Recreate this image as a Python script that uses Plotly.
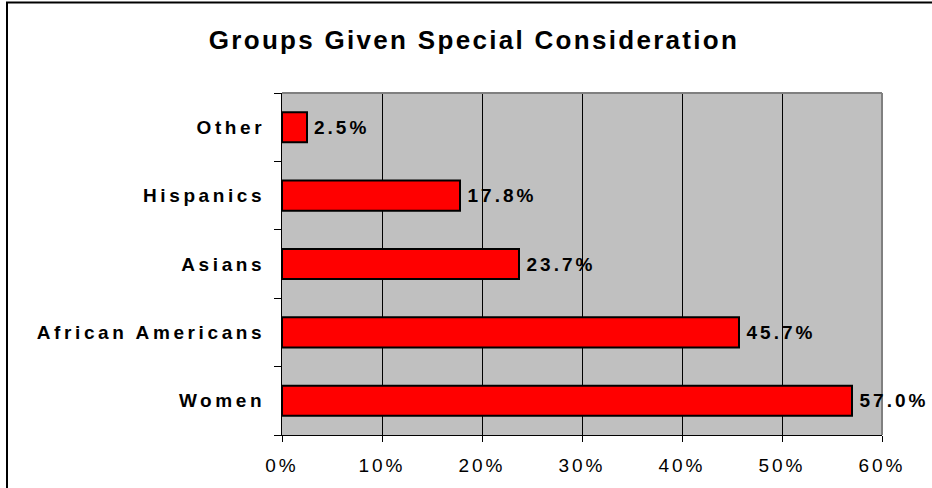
import plotly.graph_objects as go

categories = ["Women", "African Americans", "Asians", "Hispanics", "Other"]
shares = [57.0, 45.7, 23.7, 17.8, 2.5]
x_ticks = [0, 10, 20, 30, 40, 50, 60]
x_tick_labels = ["0%", "10%", "20%", "30%", "40%", "50%", "60%"]

FONT = "Liberation Sans, Arial, sans-serif"
SPACING = 3  # px of letter spacing on the value labels

fig = go.Figure()
fig.add_trace(
    go.Bar(
        x=shares,
        y=categories,
        orientation="h",
        marker=dict(color="#FF0000", line=dict(color="black", width=2)),
        hoverinfo="skip",
    )
)

# value labels to the right of each bar
labels = []
for cat, v in zip(categories, shares):
    txt = f"{v:.1f}%"
    labels.append(
        dict(
            x=v,
            y=cat,
            text=f"<b>{txt}</b>",
            xanchor="left",
            yanchor="middle",
            showarrow=False,
            xshift=5 + len(txt) * SPACING / 2,
            font=dict(family=FONT, size=19, color="black"),
        )
    )

fig.update_layout(
    width=932,
    height=488,
    margin=dict(l=282, r=50, t=93, b=53),
    paper_bgcolor="white",
    plot_bgcolor="#C0C0C0",
    bargap=0.56,
    showlegend=False,
    title=dict(
        text="<b>Groups Given Special Consideration</b>",
        font=dict(family=FONT, size=26, color="black"),
        x=474 / 932,
        xanchor="center",
        y=1 - 40 / 488,
        yanchor="middle",
    ),
    xaxis=dict(
        range=[0, 60],
        tickvals=x_ticks,
        ticktext=x_tick_labels,
        showgrid=True,
        gridcolor="black",
        gridwidth=1,
        showline=True,
        linecolor="black",
        linewidth=1,
        ticks="outside",
        ticklen=6,
        tickcolor="black",
        ticklabelstandoff=7,
        tickfont=dict(family=FONT, size=19, color="black"),
        zeroline=False,
        fixedrange=True,
    ),
    yaxis=dict(
        showgrid=False,
        showline=True,
        linecolor="black",
        linewidth=1,
        ticks="outside",
        tickson="boundaries",
        ticklen=7,
        tickcolor="black",
        ticklabelstandoff=12,
        tickfont=dict(family=FONT, size=19, color="black", weight="bold"),
        fixedrange=True,
    ),
    annotations=labels,
    shapes=[
        # grey frame on top and right of the plot area
        dict(type="line", xref="paper", yref="paper", x0=0, x1=1, y0=1, y1=1,
             line=dict(color="#808080", width=2)),
        dict(type="line", xref="paper", yref="paper", x0=1, x1=1, y0=0, y1=1,
             line=dict(color="#808080", width=2)),
        # outer chart border
        dict(type="rect", xref="paper", yref="paper",
             x0=(7 - 282) / 600, x1=(940 - 282) / 600,
             y0=(435 - 500) / 342, y1=(435 - 2.5) / 342,
             line=dict(color="black", width=2), layer="below"),
    ],
)

# the old chart uses spaced-out lettering; also drop the page's default body margin
page_css = (
    "var s = document.createElement('style');"
    "s.textContent = 'body{margin:0} .main-svg text{letter-spacing:3px}"
    " .gtitle{letter-spacing:2.3px !important}"
    " .ytick text{letter-spacing:3.6px !important}';"
    "document.head.appendChild(s);"
)

fig.write_html("out.html", post_script=page_css, config={"displayModeBar": False})
